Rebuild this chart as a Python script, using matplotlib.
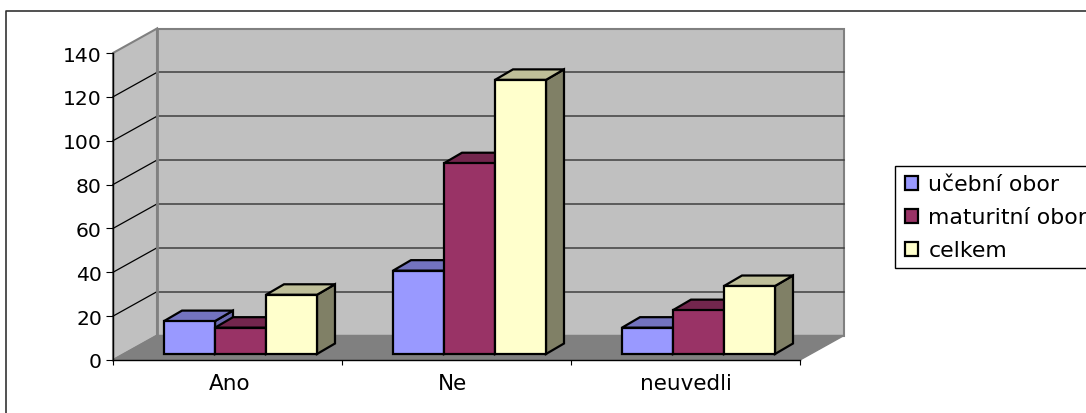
import matplotlib
matplotlib.use("Agg")
import matplotlib.pyplot as plt
from matplotlib.patches import Polygon, Patch, Rectangle
from matplotlib.lines import Line2D
from matplotlib.legend_handler import HandlerPatch

categories = ["Ano", "Ne", "neuvedli"]
series_names = ["učební obor", "maturitní obor", "celkem"]
ucebni = [15, 38, 12]
maturitni = [12, 87, 20]
celkem = [27, 125, 31]
y_ticks = [0, 20, 40, 60, 80, 100, 120, 140]

colors = ["#9999FF", "#993366", "#FFFFCC"]
top_colors = ["#7373BF", "#73264D", "#BFBF99"]
side_colors = ["#6A6AB0", "#4D1A33", "#808066"]

W, H = 1086, 414
x0, x1 = 113, 800
y0, y1 = 361, 54

fig = plt.figure(figsize=(W / 100, H / 100), dpi=100)
ax = fig.add_axes([x0 / W, 1 - y0 / H, (x1 - x0) / W, (y0 - y1) / H])
ax.patch.set_visible(False)
ax.set_xlim(0, 3)
ax.set_ylim(0, 140)

# depth of the fake 3d box, in data units
depth_x = 44 / 229
depth_y = 24.5 / 2.193
bar_w = 0.2227
bar_start = 0.2227
bar_base = 2.74
bar_dx = 18 / 229
bar_dy = 10.5 / 2.193

# walls and floor
ax.add_patch(Polygon([(depth_x, depth_y), (3 + depth_x, depth_y), (3 + depth_x, 140 + depth_y), (depth_x, 140 + depth_y)],
                     fc="#C0C0C0", ec="#808080", lw=1.5, clip_on=False, zorder=1))
ax.add_patch(Polygon([(0, 0), (depth_x, depth_y), (depth_x, 140 + depth_y), (0, 140)],
                     fc="#C0C0C0", ec="#808080", lw=1.5, clip_on=False, zorder=1))
ax.add_patch(Polygon([(0, 0), (3, 0), (3 + depth_x, depth_y), (depth_x, depth_y)],
                     fc="#808080", ec="#808080", lw=1, clip_on=False, zorder=1.1))

for t in y_ticks[1:-1]:
    ax.plot([depth_x, 3 + depth_x], [t + depth_y, t + depth_y], color="#404040", lw=1.1, clip_on=False, zorder=1.2)
for t in y_ticks[1:-1]:
    ax.plot([0, depth_x], [t, t + depth_y], color="black", lw=0.9, clip_on=False, zorder=1.2)
ax.plot([depth_x, depth_x], [depth_y, 140 + depth_y], color="#808080", lw=2, clip_on=False, zorder=1.3)

# bars, drawn left to right so each one covers the side of the one before
z = 3
for c in range(len(categories)):
    for s, values in enumerate([ucebni, maturitni, celkem]):
        left = c + bar_start + s * bar_w
        right = left + bar_w
        top = bar_base + values[c]
        ax.add_patch(Polygon([(right, bar_base), (right + bar_dx, bar_base + bar_dy), (right + bar_dx, top + bar_dy), (right, top)],
                             fc=side_colors[s], ec="black", lw=1.6, joinstyle="miter", clip_on=False, zorder=z))
        ax.add_patch(Polygon([(left, top), (right, top), (right + bar_dx, top + bar_dy), (left + bar_dx, top + bar_dy)],
                             fc=top_colors[s], ec="black", lw=1.6, joinstyle="miter", clip_on=False, zorder=z))
        ax.bar(left, values[c], width=bar_w, bottom=bar_base, align="edge", color=colors[s],
               edgecolor="black", linewidth=1.6, clip_on=False, zorder=z + 0.1)
        z += 1

for side in ["top", "right"]:
    ax.spines[side].set_visible(False)
ax.spines["left"].set_linewidth(1.0)
ax.spines["bottom"].set_linewidth(1.0)

ax.set_yticks(y_ticks)
ax.set_yticklabels([str(t) for t in y_ticks], fontsize=14.6, family="DejaVu Sans")
ax.tick_params(axis="y", length=5, width=0.8, pad=3)

ax.set_xticks([0, 1, 2, 3])
ax.set_xticklabels([])
ax.set_xticks([0.511, 1.482, 2.5], minor=True)
ax.set_xticklabels(categories, minor=True, fontsize=15.5, family="DejaVu Sans")
ax.tick_params(axis="x", which="major", length=3.6, width=0.8)
ax.tick_params(axis="x", which="minor", length=0, pad=9.5)


def legend_key(legend, orig_handle, xdescent, ydescent, width, height, fontsize):
    # square key, pushed to the right end of the handle box
    return Rectangle((width - height, 0), height, height)


handles = [Patch(fc=colors[i], ec="black", lw=1.6) for i in range(3)]
leg = fig.legend(handles, series_names, loc="upper left", bbox_to_anchor=(894.5 / W, 1 - 166.7 / H),
                 bbox_transform=fig.transFigure, borderaxespad=0, fancybox=False, framealpha=1,
                 edgecolor="black", handlelength=0.73, handleheight=0.58, handletextpad=0.45,
                 labelspacing=0.6, borderpad=0.36, prop={"family": "DejaVu Sans", "size": 15.8},
                 handler_map={Patch: HandlerPatch(patch_func=legend_key)})
leg.get_frame().set_linewidth(1.0)

# outer frame of the chart, cut off at the right and bottom
fig.add_artist(Line2D([6 / W, 6 / W, 1], [0, 1 - 12 / H, 1 - 12 / H], transform=fig.transFigure, color="#333333", lw=1.2))

fig.savefig("out.png", dpi=100)
